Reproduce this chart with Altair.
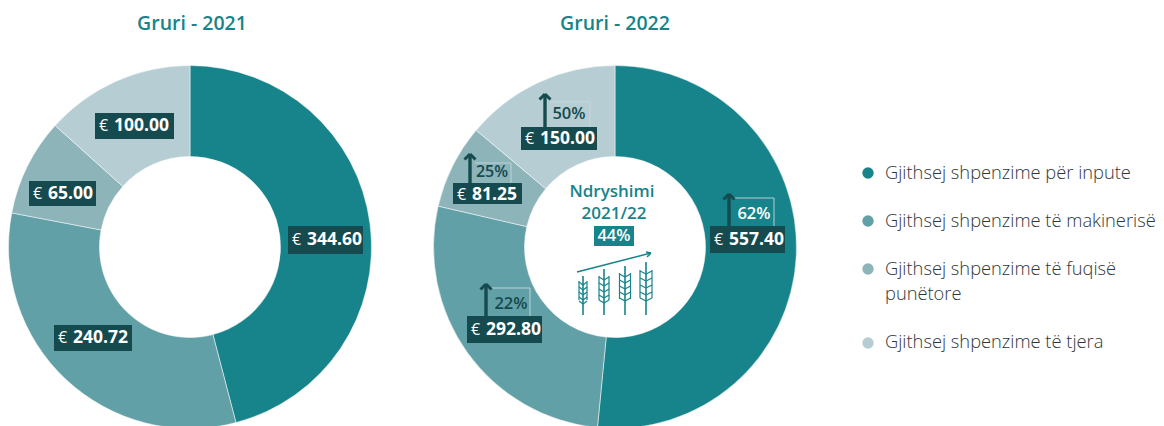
import math
import altair as alt
import pandas as pd

categories = ["Gjithsej shpenzime për inpute", "Gjithsej shpenzime të makinerisë",
              "Gjithsej shpenzime të fuqisë punëtore", "Gjithsej shpenzime të tjera"]
values_2021 = [344.60, 240.72, 65.00, 100.00]
values_2022 = [557.40, 292.80, 81.25, 150.00]
labels_2021 = ["344.60", "240.72", "65.00", "100.00"]
labels_2022 = ["557.40", "292.80", "81.25", "150.00"]
changes = ["62%", "22%", "25%", "50%"]
slice_colors = ["#16848a", "#62a0a7", "#8cb4b9", "#b6ced3"]

TEAL, DARK, PALE, GREY = "#16848a", "#154a4f", "#c5d8db", "#2f3638"
FONT = "Open Sans"
W, H = 1148, 418
X = alt.Scale(domain=[8, 8 + W], range=[0, W])
Y = alt.Scale(domain=[8, 8 + H], range=[0, H])

def enc_xy():
    return dict(x=alt.X("x:Q", scale=X, axis=None), y=alt.Y("y:Q", scale=Y, axis=None))

# ---- donuts
rows = []
for vals, cx, cy in [(values_2021, 190, 247), (values_2022, 615, 247)]:
    total, run = sum(vals), 0.0
    for v, c in zip(vals, slice_colors):
        rows.append(dict(x=cx, y=cy, a=run / total, b=(run + v) / total, c=c))
        run += v
arcs = alt.Chart(pd.DataFrame(rows)).mark_arc(
    radius=181.5, radius2=90.5, stroke="#ffffff", strokeWidth=0.5
).encode(
    **enc_xy(),
    theta=alt.Theta("a:Q", scale=alt.Scale(domain=[0, 1], range=[0, 2 * math.pi])),
    theta2="b:Q",
    color=alt.Color("c:N", scale=None),
)

# ---- boxes
boxes = [
    (288, 363, 226, 254, DARK), (54, 132, 325, 351, DARK), (29, 96, 181, 206, DARK), (95, 174, 113, 139, DARK),
    (710, 785, 226, 253, DARK), (467, 542, 316, 343, DARK), (453, 522, 183, 204, DARK), (521, 597, 127, 150, DARK),
    (594, 634, 226, 246, TEAL),
]
box_layer = alt.Chart(pd.DataFrame(boxes, columns=["x", "x2", "y", "y2", "c"])).mark_rect().encode(
    **enc_xy(), x2="x2:Q", y2="y2:Q", color=alt.Color("c:N", scale=None))

# ---- segments: (x, y, x2, y2, colour, width)
segs = []
for ax, tip, bottom, bx, top, c in [
    (729, 193, 226, 774, 198, PALE), (486, 283, 316, 530, 288, PALE),
    (470, 153, 183, 511, 163, PALE), (545, 93, 127, 590, 102, PALE),
]:
    segs += [(ax + 5, top, bx, top, c, 0.9), (bx, top, bx, bottom, c, 0.9),
             (ax, tip + 1, ax, bottom, DARK, 3.4),
             (ax - 5.5, tip + 6.5, ax, tip + 1, DARK, 3), (ax + 5.5, tip + 6.5, ax, tip + 1, DARK, 3)]

# growth arrow
segs += [(577, 272, 651, 253, TEAL, 1.5), (646, 252, 651, 253, TEAL, 1.5), (647, 257, 651, 253, TEAL, 1.5)]

# wheat icon: stem x, stem top, ear half width, ear bottom, chevron rows
stem_x = [583, 604, 625, 646]
stem_top = [276, 269, 266, 262]
ear_half = [4, 5, 5.5, 6]
ear_side_top = [281, 276, 273, 270]
ear_side_bottom = [300, 300, 299, 298]
ear_rows = [[285, 290, 295, 300, 304], [280, 286, 292, 298, 303], [277, 283, 289, 295, 301], [274, 281, 288, 295, 301]]
for sx, st, eh, et, eb, ry in zip(stem_x, stem_top, ear_half, ear_side_top, ear_side_bottom, ear_rows):
    segs.append((sx, st, sx, 315, TEAL, 1.6))
    segs += [(sx - eh, et, sx - eh, eb, TEAL, 1.2), (sx + eh, et, sx + eh, eb, TEAL, 1.2)]
    for r in ry:
        segs += [(sx - eh, r - 3, sx, r, TEAL, 1.2), (sx + eh, r - 3, sx, r, TEAL, 1.2)]

seg_layer = alt.Chart(pd.DataFrame(segs, columns=["x", "y", "x2", "y2", "c", "w"])).mark_rule().encode(
    **enc_xy(), x2="x2:Q", y2="y2:Q", color=alt.Color("c:N", scale=None),
    strokeWidth=alt.StrokeWidth("w:Q", scale=None))

# ---- texts
def text_layer(rows, weight, align="left"):
    df = pd.DataFrame(rows, columns=["x", "y", "t", "c", "s"])
    return alt.Chart(df).mark_text(font=FONT, fontWeight=weight, align=align, baseline="middle").encode(
        **enc_xy(), text="t:N", color=alt.Color("c:N", scale=None), size=alt.Size("s:Q", scale=None))

box_left = [(288, 240), (54, 338), (29, 193.5), (95, 126), (710, 240), (467, 330), (453, 195), (521, 139)]
euro = [(x + 4, y, "€", "#ffffff", 16) for x, y in box_left]
nums = [(x + 19, y, t, "#ffffff", 17.5) for (x, y), t in zip(box_left, labels_2021 + labels_2022)]
pct_pos = [(754, 214, "#ffffff", 16.5), (511, 304, DARK, 16.5), (492, 172, DARK, 16), (569, 114, DARK, 16.5)]
pcts = [(x, y, t, c, s) for (x, y, c, s), t in zip(pct_pos, changes)]
center_bold = [
    (192, 24, "Gruri - 2021", TEAL, 19.5), (615, 24, "Gruri - 2022", TEAL, 19.5),
    (612, 192, "Ndryshimi", TEAL, 17), (614, 214, "2021/22", TEAL, 17),
    (614, 236, "44%", "#ffffff", 16.5),
] + pcts

legend_y = [173, 221, 269, 343]
legend_text = [
    (885, 174, "Gjithsej shpenzime për inpute"),
    (885, 222, "Gjithsej shpenzime të makinerisë"),
    (885, 270, "Gjithsej shpenzime të fuqisë"),
    (885, 295, "punëtore"),
    (885, 343, "Gjithsej shpenzime të tjera"),
]
legend_rows = [(x, y, t, GREY, 18.3) for x, y, t in legend_text]
dots = alt.Chart(pd.DataFrame({"x": [868] * 4, "y": legend_y, "c": slice_colors})).mark_circle(
    size=130, opacity=1).encode(**enc_xy(), color=alt.Color("c:N", scale=None))

chart = alt.layer(
    arcs, box_layer, seg_layer, dots,
    text_layer(euro, 400), text_layer(nums, 700),
    text_layer(center_bold, 600, "center"),
    text_layer(legend_rows, 300),
).properties(
    width=W, height=H, padding=0, autosize=alt.AutoSizeParams(type="none"),
).configure_view(stroke=None)

chart.save("out.html", embed_options={"renderer": "svg", "actions": False})
